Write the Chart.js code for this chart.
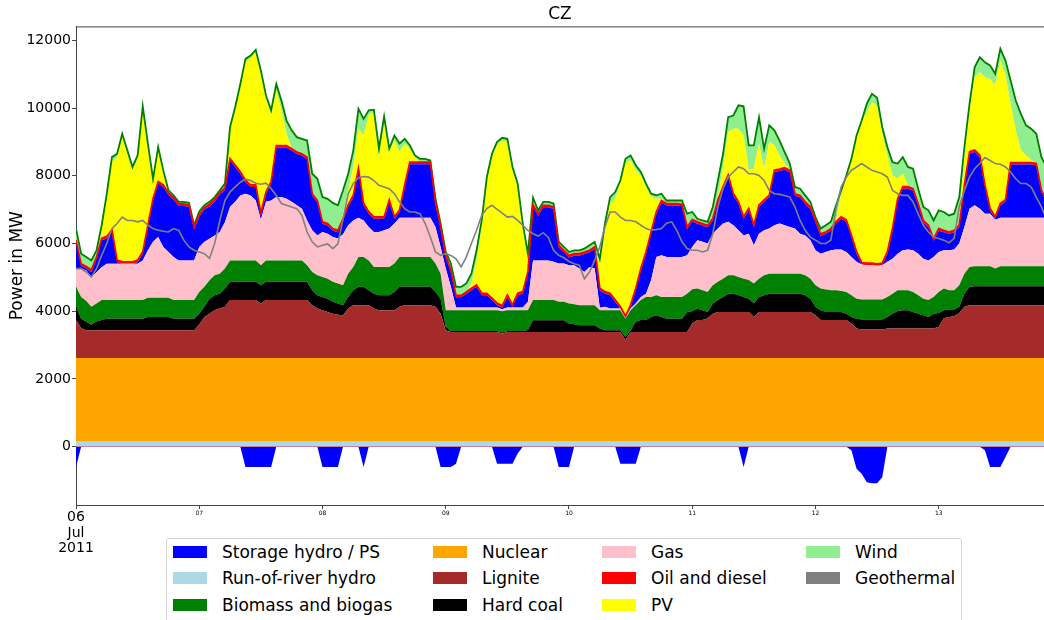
<!DOCTYPE html>
<html lang="en">
<head>
<meta charset="UTF-8">
<title>CZ</title>
<script src="https://cdn.jsdelivr.net/npm/chart.js@4.4.1/dist/chart.umd.min.js"></script>
<style>
    html, body { margin: 0; padding: 0; background: #fff; overflow: hidden; }
    #wrap { position: relative; width: 1044px; height: 620px; }
    #legend {
        position: absolute; left: 166px; top: 538px; width: 794px; height: 100px;
        border: 1px solid #d4d4d4; border-radius: 3px; background: #fff;
        font-family: "DejaVu Sans", sans-serif; font-size: 17px; color: #000;
    }
    .it { position: absolute; padding-left: 49px; height: 20px; line-height: 20px; white-space: nowrap; }
    .sw { position: absolute; left: 0; top: 4px; width: 34px; height: 12px; }
    .c1 { left: 6px; } .c2 { left: 266px; } .c3 { left: 435px; } .c4 { left: 639px; }
    .r1 { top: 3px; } .r2 { top: 29px; } .r3 { top: 56px; }
</style>
</head>
<body>
<div id="wrap">
    <canvas id="chart" width="1044" height="620"></canvas>
    <div id="legend">
        <div class="it c1 r1"><span class="sw" style="background:#0000ff"></span>Storage hydro / PS</div>
        <div class="it c1 r2"><span class="sw" style="background:#add8e6"></span>Run-of-river hydro</div>
        <div class="it c1 r3"><span class="sw" style="background:#008000"></span>Biomass and biogas</div>
        <div class="it c2 r1"><span class="sw" style="background:#ffa500"></span>Nuclear</div>
        <div class="it c2 r2"><span class="sw" style="background:#a52a2a"></span>Lignite</div>
        <div class="it c2 r3"><span class="sw" style="background:#000000"></span>Hard coal</div>
        <div class="it c3 r1"><span class="sw" style="background:#ffc0cb"></span>Gas</div>
        <div class="it c3 r2"><span class="sw" style="background:#ff0000"></span>Oil and diesel</div>
        <div class="it c3 r3"><span class="sw" style="background:#ffff00"></span>PV</div>
        <div class="it c4 r1"><span class="sw" style="background:#90ee90"></span>Wind</div>
        <div class="it c4 r2"><span class="sw" style="background:#808080"></span>Geothermal</div>
    </div>
</div>
<script>
// hourly values in MW, 06 Jul 2011 00:00 onwards, one row per day
var runOfRiver = [
    170,170,170,170,170,170,170,170,170,170,170,170,170,170,170,170,170,170,170,170,170,170,170,170,
    170,170,170,170,170,170,170,170,170,170,170,170,170,170,170,170,170,170,170,170,170,170,170,170,
    170,170,170,170,170,170,170,170,170,170,170,170,170,170,170,170,170,170,170,170,170,170,170,170,
    170,170,170,170,170,170,170,170,170,170,170,170,170,170,170,170,170,170,170,170,170,170,170,170,
    170,170,170,170,170,170,170,170,170,170,170,170,170,170,170,170,170,170,170,170,170,170,170,170,
    170,170,170,170,170,170,170,170,170,170,170,170,170,170,170,170,170,170,170,170,170,170,170,170,
    170,170,170,170,170,170,170,170,170,170,170,170,170,170,170,170,170,170,170,170,170,170,170,170,
    170,170,170,170,170,170,170,170,170,170,170,170,170,170,170,170,170,170,170,170,170,170
];
var nuclear = [
    2450,2450,2450,2450,2450,2450,2450,2450,2450,2450,2450,2450,2450,2450,2450,2450,2450,2450,2450,2450,2450,2450,2450,2450,
    2450,2450,2450,2450,2450,2450,2450,2450,2450,2450,2450,2450,2450,2450,2450,2450,2450,2450,2450,2450,2450,2450,2450,2450,
    2450,2450,2450,2450,2450,2450,2450,2450,2450,2450,2450,2450,2450,2450,2450,2450,2450,2450,2450,2450,2450,2450,2450,2450,
    2450,2450,2450,2450,2450,2450,2450,2450,2450,2450,2450,2450,2450,2450,2450,2450,2450,2450,2450,2450,2450,2450,2450,2450,
    2450,2450,2450,2450,2450,2450,2450,2450,2450,2450,2450,2450,2450,2450,2450,2450,2450,2450,2450,2450,2450,2450,2450,2450,
    2450,2450,2450,2450,2450,2450,2450,2450,2450,2450,2450,2450,2450,2450,2450,2450,2450,2450,2450,2450,2450,2450,2450,2450,
    2450,2450,2450,2450,2450,2450,2450,2450,2450,2450,2450,2450,2450,2450,2450,2450,2450,2450,2450,2450,2450,2450,2450,2450,
    2450,2450,2450,2450,2450,2450,2450,2450,2450,2450,2450,2450,2450,2450,2450,2450,2450,2450,2450,2450,2450,2450
];
var lignite = [
    1130,880,820,820,820,820,820,820,820,820,820,820,820,820,820,820,820,820,820,820,820,820,820,820,
    980,1210,1310,1410,1460,1510,1710,1710,1710,1710,1710,1710,1610,1710,1710,1710,1710,1710,1710,1710,1710,1710,1560,1460,
    1410,1360,1310,1280,1260,1460,1560,1560,1560,1560,1460,1410,1410,1410,1410,1510,1560,1560,1560,1560,1560,1560,1510,1310,
    820,770,770,770,770,770,770,770,770,770,770,720,770,770,770,770,770,770,770,770,770,770,770,770,
    770,770,770,770,770,770,770,770,770,770,770,530,770,770,770,770,770,770,770,770,770,770,770,770,
    1020,1120,1120,1170,1310,1360,1360,1360,1360,1360,1360,1360,1210,1360,1360,1360,1360,1360,1360,1360,1360,1360,1360,1360,
    1260,1120,1120,1120,1120,1120,1120,1020,870,840,840,840,840,840,870,870,870,870,870,870,870,870,870,870,
    920,1170,1210,1230,1330,1510,1560,1560,1560,1560,1560,1560,1560,1560,1560,1560,1560,1560,1560,1560,1560,1560
];
var hardCoal = [
    380,280,250,160,260,300,340,340,340,340,340,340,340,340,390,390,390,390,390,340,340,340,340,340,
    330,300,440,440,440,540,540,540,540,540,540,540,540,540,540,540,540,540,540,540,540,540,440,390,
    390,390,350,330,300,340,440,540,540,440,440,440,440,440,540,590,540,540,540,540,540,540,440,440,
    100,30,30,30,30,30,30,30,30,30,30,30,30,30,30,30,60,345,345,345,345,345,345,345,
    250,230,200,200,200,200,100,50,50,50,50,90,50,300,350,350,440,490,440,390,390,390,390,590,
    360,340,290,190,300,350,440,540,540,490,440,390,400,440,490,540,540,540,540,540,540,540,490,390,
    250,290,240,240,240,240,190,190,290,300,300,300,300,300,340,440,520,540,540,490,440,390,340,440,
    410,240,220,200,180,390,540,560,560,560,560,560,560,560,560,560,560,560,560,560,560,560
];
var biomass = [
    590,640,610,530,530,590,550,550,550,550,550,550,550,550,570,570,570,570,570,550,550,550,550,550,
    640,590,545,590,590,590,630,630,630,630,630,630,590,630,630,630,630,630,630,630,630,490,540,590,
    590,590,590,590,590,690,690,880,880,880,790,840,840,840,840,880,880,880,880,880,880,880,840,740,
    490,610,610,610,610,610,610,610,610,610,610,630,610,610,610,610,580,595,595,595,595,595,545,545,
    590,590,590,590,590,590,540,590,590,590,590,540,590,490,590,680,590,590,590,640,640,640,640,540,
    650,590,590,590,540,540,540,540,540,540,540,550,590,540,590,590,590,590,590,590,590,590,590,590,
    640,640,660,640,640,620,640,640,590,590,590,590,590,590,590,590,610,590,590,590,540,490,500,490,
    620,640,570,570,640,590,590,590,590,590,590,520,590,590,590,590,590,590,590,590,590,590
];
var gas = [
    540,840,900,880,920,970,1070,1070,1070,1070,1070,1070,1070,1170,1400,1650,1790,1500,1350,1270,1170,1170,1170,1170,
    1330,1330,1225,1180,1230,1370,1580,1730,1920,1970,1920,1770,1340,1730,1770,1870,1870,1820,1730,1630,1530,1320,1230,1180,
    1330,1330,1320,1330,1500,1430,1370,1160,1080,990,1030,1030,1080,1130,1180,1160,1160,1160,1160,1160,1160,1160,1080,790,
    1230,690,80,80,80,80,80,80,80,80,80,60,80,80,80,80,250,1170,1170,1170,1170,1130,1130,1130,
    1130,1150,1080,980,1130,1080,70,100,50,50,50,20,50,50,90,100,500,1130,1230,1180,1180,1180,1180,1130,
    1250,1430,1430,1430,1520,1570,1630,1580,1480,1380,1280,1370,1130,1330,1330,1330,1430,1480,1430,1380,1330,1180,1180,1140,
    1030,1030,1110,1180,1200,1220,1180,1130,1090,1030,1010,1010,990,1010,1040,1030,1080,1180,1200,1230,1230,1180,1170,1180,
    1180,1130,1180,1200,1230,1380,1720,1800,1700,1550,1550,1440,1430,1430,1430,1430,1430,1430,1430,1430,1430,1430
];
var storageGen = [
    780,80,60,150,390,800,750,950,50,0,0,0,50,200,690,1220,1580,1770,1680,1700,1610,1610,1580,920,
    890,950,960,1000,1100,950,1370,1030,640,340,250,400,150,240,500,1460,1460,1510,1510,1510,1560,1810,1020,970,
    240,240,190,180,410,540,690,1400,450,390,390,390,340,790,140,170,910,1580,1580,1580,1580,1580,680,530,
    330,430,300,300,400,510,610,360,360,220,70,50,310,20,360,410,830,1580,1320,1570,1570,1560,480,330,
    230,280,380,530,430,580,520,390,390,200,0,0,50,390,790,1180,1370,1280,1560,1520,1520,1520,1500,780,
    750,480,480,480,390,790,1030,1320,880,790,490,690,540,790,840,930,1570,1550,1640,1610,970,1070,930,920,
    820,530,530,580,770,910,890,590,240,0,0,0,0,0,240,840,1570,1820,1800,1760,1420,1070,980,480,
    630,530,480,510,490,1180,1620,1570,1520,790,100,30,370,470,1570,1570,1570,1570,1570,1540,750,460
];
var storagePump = [
    -600,0,0,0,0,0,0,0,0,0,0,0,0,0,0,0,0,0,0,0,0,0,0,0,
    0,0,0,0,0,0,0,0,0,-600,-600,-600,-600,-600,-600,0,0,0,0,0,0,0,0,0,
    -600,-600,-600,-600,0,0,0,0,-600,0,0,0,0,0,0,0,0,0,0,0,0,0,0,-600,
    -600,-600,-500,0,0,0,0,0,0,0,-500,-500,-500,-500,-200,0,0,0,0,0,0,0,-600,-600,
    -600,0,0,0,0,0,0,0,0,0,-500,-500,-500,-500,0,0,0,0,0,0,0,0,0,0,
    0,0,0,0,0,0,0,0,0,0,-600,0,0,0,0,0,0,0,0,0,0,0,0,0,
    0,0,0,0,0,0,0,-100,-650,-800,-1050,-1080,-1080,-900,0,0,0,0,0,0,0,0,0,0,
    0,0,0,0,0,0,0,0,0,-100,-600,-600,-600,-300,0,0,0,0,0,0,0,0
];
var oil = [
    60,60,60,60,60,60,60,60,60,60,60,60,60,60,60,60,60,60,60,60,60,60,60,60,
    60,60,60,60,60,60,60,60,60,60,60,60,60,60,60,60,60,60,60,60,60,60,60,60,
    60,60,60,60,60,60,60,60,60,60,60,60,60,60,60,60,60,60,60,60,60,60,60,60,
    60,60,60,60,60,60,60,60,60,60,60,60,60,60,60,60,60,60,60,60,60,60,60,60,
    60,60,60,60,60,60,60,60,60,60,60,60,60,60,60,60,60,60,60,60,60,60,60,60,
    60,60,60,60,60,60,60,60,60,60,60,60,60,60,60,60,60,60,60,60,60,60,60,60,
    60,60,60,60,60,60,60,60,60,60,60,60,60,60,60,60,60,60,60,60,60,60,60,60,
    60,60,60,60,60,60,60,60,60,60,60,60,60,60,60,60,60,60,60,60,60,60
];
var pv = [
    0,0,0,0,0,280,1160,2020,3020,3680,3190,2700,2990,4190,2300,500,940,350,0,0,0,0,0,0,
    0,0,0,0,0,50,850,1630,2510,3500,3740,3910,4120,2760,1950,1620,1030,340,0,0,0,0,0,0,
    0,0,0,0,140,430,830,1170,2000,2840,3090,1760,2790,1410,2250,1710,1210,400,150,0,0,0,0,0,
    0,0,0,0,0,140,720,1960,3280,4160,4660,4870,4510,3970,3140,1910,430,50,0,0,0,0,0,0,
    0,0,0,0,0,0,720,1810,2650,2980,3630,4540,4260,3480,2740,1910,1020,380,50,0,0,0,0,0,
    0,0,0,0,40,80,580,1270,1910,2150,2400,1120,1660,1800,920,1570,730,400,120,0,0,0,0,0,
    0,0,0,0,30,680,1260,2200,3330,4140,4460,4750,4660,3820,2840,1560,580,380,40,0,0,0,0,0,
    0,0,0,0,90,920,1220,2150,2450,3180,3820,3880,4210,3670,1730,950,360,210,70,0,0,0
];
var wind = [
    340,300,280,280,200,100,100,120,120,100,100,100,100,100,100,80,80,80,80,60,60,60,60,60,
    100,70,70,70,70,80,80,80,80,80,80,80,80,80,150,200,300,400,540,440,440,490,590,640,
    730,730,760,740,690,490,490,590,490,150,70,250,170,100,150,250,150,100,50,100,100,50,90,100,
    100,200,250,250,250,290,300,190,150,100,100,80,100,100,100,100,100,160,100,100,100,100,100,100,
    100,100,100,100,150,150,150,200,190,200,90,100,150,150,100,100,100,100,150,90,90,90,110,390,
    220,90,90,100,300,490,390,440,390,690,860,740,690,790,590,490,440,440,340,200,200,200,190,150,
    100,150,200,200,450,100,50,50,100,50,250,250,240,200,250,390,450,490,540,590,440,400,440,540,
    540,540,490,490,730,200,200,300,440,440,400,340,350,440,690,880,1080,890,930,880,980,980
];
var load = [
    5260,5260,5160,5010,5260,5650,6000,6440,6590,6780,6680,6680,6640,6680,6540,6440,6390,6360,6340,6440,6390,6100,5900,5800,
    5750,5700,5560,6000,6680,7270,7520,7670,7810,7900,7860,7780,7750,7780,7620,7420,7180,7130,7080,7030,6830,6340,6050,5900,
    5950,5990,5850,5990,6730,7470,7770,7940,7980,7960,7860,7720,7670,7620,7470,7230,7030,6930,6930,6880,6590,6190,5750,5650,
    5700,5650,5550,5310,5600,6000,6390,6830,7030,7130,7010,6900,6780,6800,6680,6540,6390,6290,6220,6320,6170,5800,5650,5580,
    5470,5400,5360,4960,5160,5500,5900,6490,6930,6930,6780,6680,6680,6640,6540,6440,6390,6410,6440,6600,6640,6390,6050,5850,
    5800,5800,5750,5800,6290,7080,7620,7960,8110,8260,8210,8060,8060,8010,7860,7570,7470,7450,7420,7370,7080,6680,6390,6190,
    6100,6000,6000,6100,7030,7670,7960,8160,8260,8360,8260,8160,8110,8060,7960,7570,7470,7420,7420,7230,6880,6540,6340,6190,
    6150,6100,6020,6150,7080,7570,7960,8210,8360,8540,8450,8360,8340,8260,8110,7910,7770,7770,7670,7370,7080,6700
];

var dayTicks = [0, 24, 48, 72, 96, 120, 144, 168];
var dayLabels = [['06', 'Jul', '2011'], '07', '08', '09', '10', '11', '12', '13'];
var yTicks = [0, 2000, 4000, 6000, 8000, 10000, 12000];

var FONT = '"DejaVu Sans", sans-serif';

function pts(arr) {
    return arr.map(function (v, i) { return { x: i, y: v }; });
}

function area(label, arr, color, fill, border) {
    return {
        label: label,
        data: pts(arr),
        backgroundColor: color,
        borderColor: border ? border.color : color,
        borderWidth: border ? border.width : 0,
        fill: fill,
        stack: 'gen',
        pointRadius: 0,
        tension: 0
    };
}

var datasets = [
    {
        label: 'Load', data: pts(load), borderColor: '#808080', borderWidth: 1.6,
        fill: false, stack: 'load', pointRadius: 0, tension: 0
    },
    {
        label: 'Storage hydro / PS (pumping)', data: pts(storagePump), backgroundColor: '#0000ff',
        borderWidth: 0, fill: 'origin', stack: 'pump', pointRadius: 0, tension: 0
    },
    area('Run-of-river hydro', runOfRiver, '#add8e6', 'origin'),
    area('Nuclear', nuclear, '#ffa500', '-1'),
    area('Lignite', lignite, '#a52a2a', '-1'),
    area('Hard coal', hardCoal, '#000000', '-1'),
    area('Biomass and biogas', biomass, '#008000', '-1'),
    area('Gas', gas, '#ffc0cb', '-1'),
    area('Storage hydro / PS', storageGen, '#0000ff', '-1'),
    area('Oil and diesel', oil, '#ff0000', '-1', { color: '#ff0000', width: 1.7 }),
    area('PV', pv, '#ffff00', '-1'),
    area('Wind', wind, '#90ee90', '-1', { color: '#008000', width: 1.8 })
];

// top edge of the axes box and the thin line along zero
var frameTop = {
    id: 'frameTop',
    afterDatasetsDraw: function (chart) {
        var a = chart.chartArea, ctx = chart.ctx;
        var y0 = Math.round(chart.scales.y.getPixelForValue(0)) - 0.5;
        ctx.save();
        ctx.strokeStyle = '#c77fa6';
        ctx.lineWidth = 1;
        ctx.beginPath();
        ctx.moveTo(a.left, y0);
        ctx.lineTo(a.right, y0);
        ctx.stroke();
        ctx.strokeStyle = '#444';
        ctx.beginPath();
        ctx.moveTo(a.left, a.top + 0.5);
        ctx.lineTo(a.right, a.top + 0.5);
        ctx.stroke();
        ctx.restore();
    }
};

new Chart(document.getElementById('chart'), {
    type: 'line',
    data: { datasets: datasets },
    options: {
        responsive: false,
        animation: false,
        layout: { padding: 0 },
        plugins: {
            legend: { display: false },
            tooltip: { enabled: false },
            filler: { drawTime: 'beforeDatasetsDraw' },
            title: {
                display: true, text: 'CZ', fullSize: false, color: '#000',
                font: { family: FONT, size: 17, weight: 'normal' },
                padding: { top: 4, bottom: 2 }
            }
        },
        scales: {
            x: {
                type: 'linear', min: 0, max: 188.5,
                afterBuildTicks: function (s) { s.ticks = dayTicks.map(function (v) { return { value: v }; }); },
                afterFit: function (s) { s.height = 115; },
                grid: { display: true, drawOnChartArea: false, tickLength: 4, color: '#444' },
                border: { display: true, color: '#444' },
                ticks: {
                    autoSkip: false, maxRotation: 0, padding: 1, color: '#000',
                    font: function (ctx) {
                        return ctx.index === 0 ? { family: FONT, size: 14, lineHeight: 1.1 } : { family: FONT, size: 6 };
                    },
                    callback: function (v, i) { return dayLabels[i]; }
                }
            },
            y: {
                stacked: true, min: -1720, max: 12410,
                afterBuildTicks: function (s) { s.ticks = yTicks.map(function (v) { return { value: v }; }); },
                afterFit: function (s) { s.width = 76; },
                grid: { display: true, drawOnChartArea: false, tickLength: 4, color: '#444' },
                border: { display: true, color: '#444' },
                ticks: {
                    padding: 1, color: '#000', font: { family: FONT, size: 14 },
                    callback: function (v) { return String(v); }
                },
                title: {
                    display: true, text: 'Power in MW', color: '#000',
                    font: { family: FONT, size: 17 },
                    padding: { top: 7, bottom: 0 }
                }
            }
        }
    },
    plugins: [frameTop]
});
</script>
</body>
</html>
